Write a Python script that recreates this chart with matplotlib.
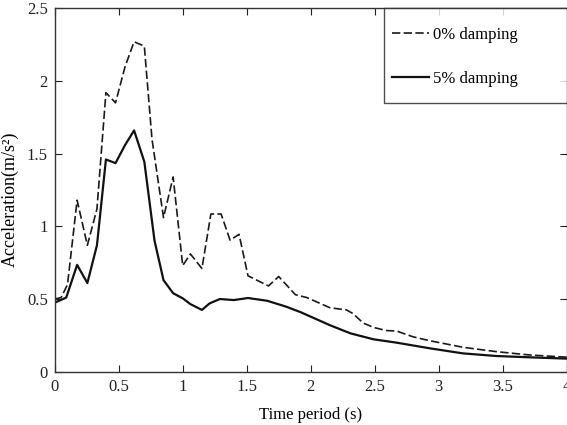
import matplotlib
matplotlib.use("Agg")
import matplotlib.pyplot as plt
import numpy as np

# Data
period_0 = [0.0, 0.05, 0.10, 0.175, 0.255, 0.33, 0.40, 0.475, 0.55, 0.62, 0.70,
            0.76, 0.85, 0.925, 1.0, 1.06, 1.15, 1.22, 1.30, 1.37, 1.44, 1.51,
            1.67, 1.75, 1.88, 1.97, 2.15, 2.28, 2.33, 2.41, 2.49, 2.59, 2.67,
            2.80, 2.93, 3.19, 3.45, 3.71, 4.0]
accel_0 = [0.50, 0.51, 0.60, 1.18, 0.87, 1.12, 1.92, 1.85, 2.10, 2.27, 2.24,
           1.60, 1.06, 1.34, 0.73, 0.81, 0.71, 1.085, 1.085, 0.905, 0.945, 0.66,
           0.59, 0.655, 0.53, 0.51, 0.44, 0.425, 0.40, 0.335, 0.305, 0.283, 0.28,
           0.24, 0.213, 0.168, 0.138, 0.115, 0.10]

period_5 = [0.0, 0.09, 0.175, 0.255, 0.33, 0.40, 0.475, 0.55, 0.62, 0.70, 0.78,
            0.85, 0.925, 1.0, 1.06, 1.15, 1.21, 1.29, 1.40, 1.51, 1.66, 1.81,
            1.92, 2.15, 2.31, 2.49, 2.67, 2.93, 3.19, 3.45, 3.71, 4.0]
accel_5 = [0.475, 0.51, 0.735, 0.61, 0.87, 1.46, 1.435, 1.56, 1.66, 1.445, 0.90,
           0.63, 0.54, 0.505, 0.465, 0.425, 0.47, 0.50, 0.493, 0.507, 0.488, 0.447,
           0.41, 0.32, 0.264, 0.223, 0.20, 0.161, 0.126, 0.108, 0.099, 0.09]

labels = ["0% damping", "5% damping"]
x_ticks = [0, 0.5, 1, 1.5, 2, 2.5, 3, 3.5, 4]
x_ticklabels = ["0", "0.5", "1", "1.5", "2", "2.5", "3", "3.5", "4"]
y_ticks = [0, 0.5, 1, 1.5, 2, 2.5]
y_ticklabels = ["0", "0.5", "1", "1.5", "2", "2.5"]

plt.rcParams["font.family"] = ["Liberation Serif", "DejaVu Serif"]
plt.rcParams["font.size"] = 12

fig = plt.figure(figsize=(5.67, 4.25), dpi=100)
ax = fig.add_axes([0.0965, 0.1254, 0.903, 0.855])

ax.plot(period_0, accel_0, color="#1a1a1a", lw=1.2, dashes=(5, 2), label=labels[0])
ax.plot(period_5, accel_5, color="#111111", lw=1.6, label=labels[1])

ax.set_xlim(0, 4)
ax.set_ylim(0, 2.5)
ax.set_xticks(x_ticks)
ax.set_xticklabels(x_ticklabels)
ax.set_yticks(y_ticks)
ax.set_yticklabels(y_ticklabels)
ax.tick_params(direction="in", length=5, width=0.8, top=True, right=True,
               labelsize=12, pad=5, colors="#222222")
for s in ax.spines.values():
    s.set_linewidth(1.0)
    s.set_color("#333333")

ax.set_xlabel("Time period (s)", fontsize=12, labelpad=9)
ax.set_ylabel("Acceleration(m/s²)", fontsize=13)
ax.yaxis.set_label_coords(-0.070, 0.475)

leg = ax.legend(loc="upper left", bbox_to_anchor=(0.644, 0.743, 0.356, 0.257),
                mode="expand", borderaxespad=0, fancybox=False, frameon=True,
                edgecolor="#222222", borderpad=0.45, handlelength=2.2,
                handletextpad=0.27, handleheight=2.94, labelspacing=0.48,
                fontsize=12)
leg.get_frame().set_linewidth(1.0)
# nudge legend handle lines down to the text's vertical centre
for hl in leg.get_lines():
    hl.set_ydata(np.asarray(hl.get_ydata()) - 4.0)

fig.savefig("out.png", dpi=100)
